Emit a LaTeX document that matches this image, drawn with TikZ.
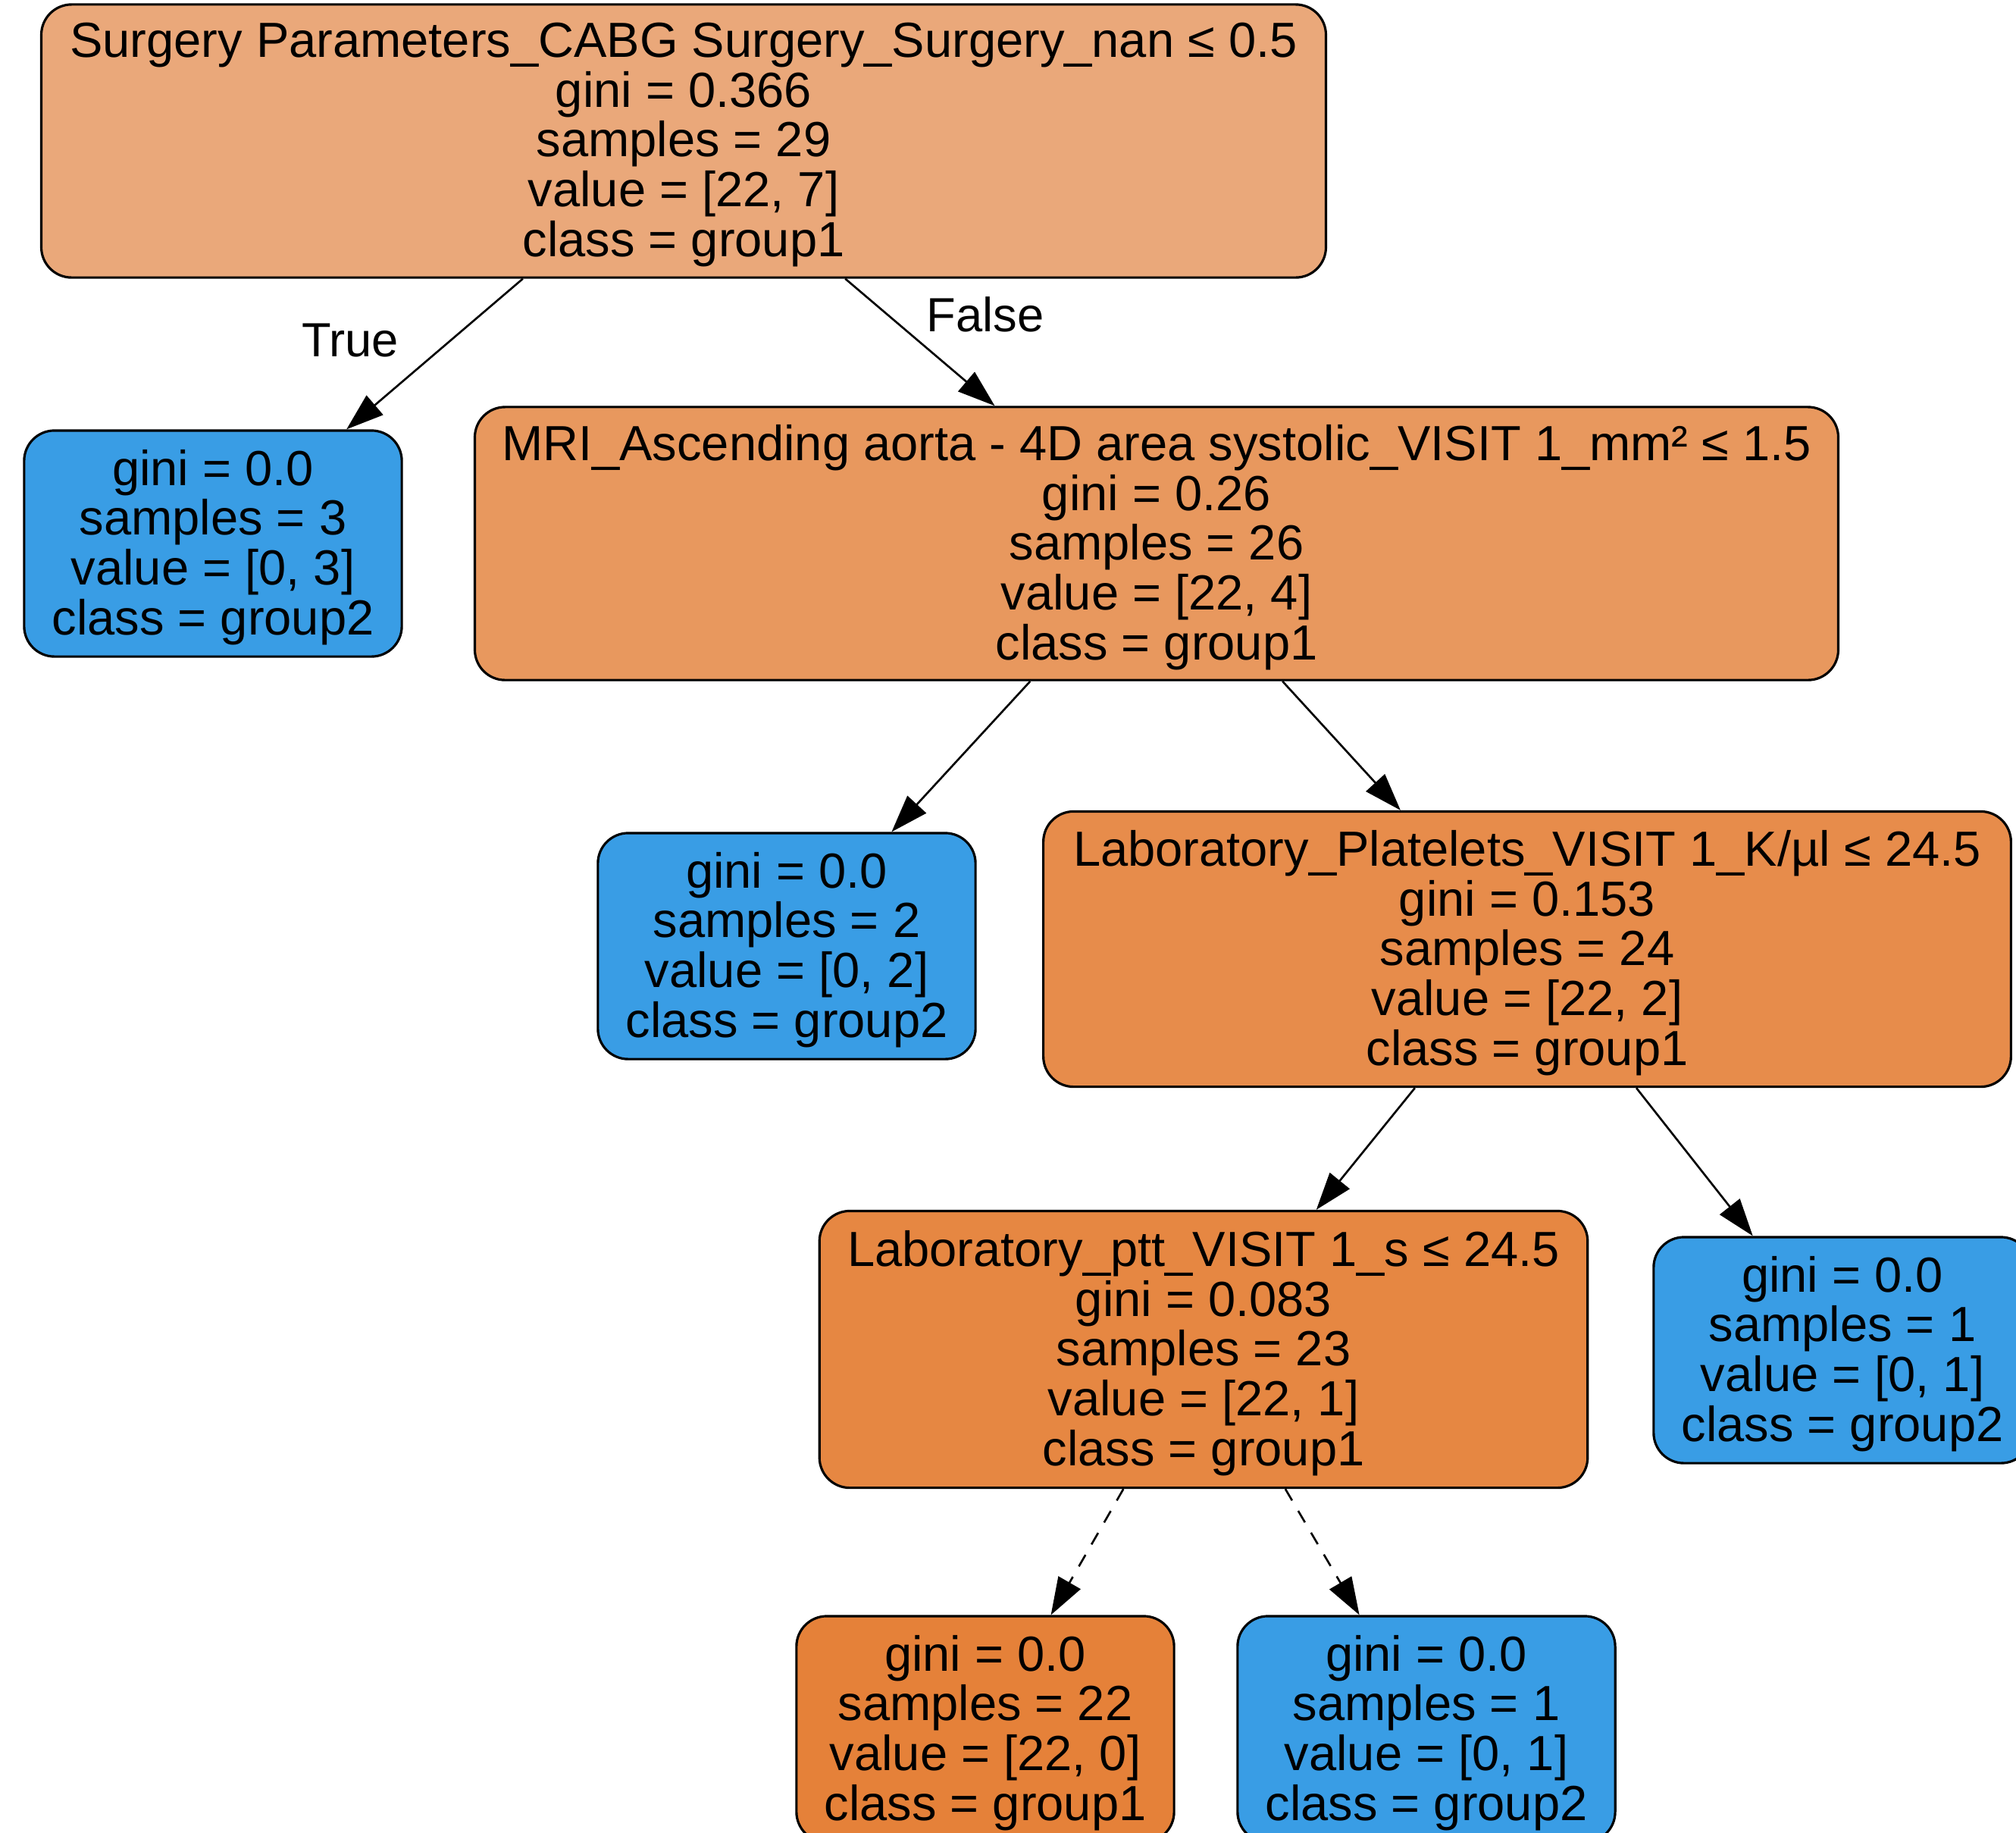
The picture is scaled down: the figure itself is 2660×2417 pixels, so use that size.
\documentclass[tikz,border=0pt]{standalone}
\usepackage{fontspec}
\setmainfont{Liberation Sans}
\usetikzlibrary{arrows.meta}
% node fills: class colours blended by purity
\definecolor{rootfill}{RGB}{234,168,122}
\definecolor{mrifill}{RGB}{232,152,94}
\definecolor{platfill}{RGB}{231,140,75}
\definecolor{pttfill}{RGB}{230,135,66}
\definecolor{groupone}{RGB}{229,129,57}
\definecolor{grouptwo}{RGB}{57,157,229}
\begin{document}
\begin{tikzpicture}[x=0.01cm,y=-0.01cm,
  treenode/.style={draw=black, line width=0.9pt, rounded corners=0.4cm,
    align=center, inner sep=0pt, text depth=1pt,
    font=\fontsize{18.5pt}{18.7pt}\selectfont},
  leafbox/.style={treenode, minimum width=4.98cm, minimum height=2.98cm},
  edge/.style={line width=0.75pt, -{Triangle[length=14pt,width=9.5pt]}},
  dashededge/.style={edge, dash pattern=on 5pt off 4.5pt},
  edgelabel/.style={font=\fontsize{18pt}{18pt}\selectfont, anchor=base, inner sep=0pt}]

\useasboundingbox (0,0) rectangle (2660,2417);
\clip (0,0) rectangle (2660,2417);

% split nodes
\node[treenode, fill=rootfill, minimum width=16.94cm, minimum height=3.60cm] (root) at (902,186)
  {Surgery Parameters\_CABG Surgery\_Surgery\_nan ≤ 0.5\\gini = 0.366\\samples = 29\\value = [22, 7]\\class = group1};
\node[treenode, fill=mrifill, minimum width=17.98cm, minimum height=3.60cm] (mri) at (1526,717)
  {MRI\_Ascending aorta - 4D area systolic\_VISIT 1\_mm² ≤ 1.5\\gini = 0.26\\samples = 26\\value = [22, 4]\\class = group1};
\node[treenode, fill=platfill, minimum width=12.76cm, minimum height=3.63cm] (plat) at (2015,1252)
  {Laboratory\_Platelets\_VISIT 1\_K/µl ≤ 24.5\\gini = 0.153\\samples = 24\\value = [22, 2]\\class = group1};
\node[treenode, fill=pttfill, minimum width=10.13cm, minimum height=3.65cm] (ptt) at (1588,1780)
  {Laboratory\_ptt\_VISIT 1\_s ≤ 24.5\\gini = 0.083\\samples = 23\\value = [22, 1]\\class = group1};

% leaves
\node[leafbox, fill=grouptwo] (leafA) at (281,717)
  {gini = 0.0\\samples = 3\\value = [0, 3]\\class = group2};
\node[leafbox, fill=grouptwo] (leafB) at (1038,1248)
  {gini = 0.0\\samples = 2\\value = [0, 2]\\class = group2};
\node[leafbox, fill=grouptwo] (leafR) at (2431,1781)
  {gini = 0.0\\samples = 1\\value = [0, 1]\\class = group2};
\node[leafbox, fill=groupone] (leafC) at (1300,2281)
  {gini = 0.0\\samples = 22\\value = [22, 0]\\class = group1};
\node[leafbox, fill=grouptwo] (leafD) at (1882,2281)
  {gini = 0.0\\samples = 1\\value = [0, 1]\\class = group2};

% connectors
\draw[edge] (root) -- (leafA);
\draw[edge] (root) -- (mri);
\draw[edge] (mri) -- (leafB);
\draw[edge] (mri) -- (plat);
\draw[edge] (plat) -- (ptt);
\draw[edge] (plat) -- (leafR);
\draw[dashededge] (ptt) -- (leafC);
\draw[dashededge] (ptt) -- (leafD);

% branch labels
\node[edgelabel] (labelTrue) at (462,470) {True};
\node[edgelabel] (labelFalse) at (1300,437) {False};
\end{tikzpicture}
\end{document}
